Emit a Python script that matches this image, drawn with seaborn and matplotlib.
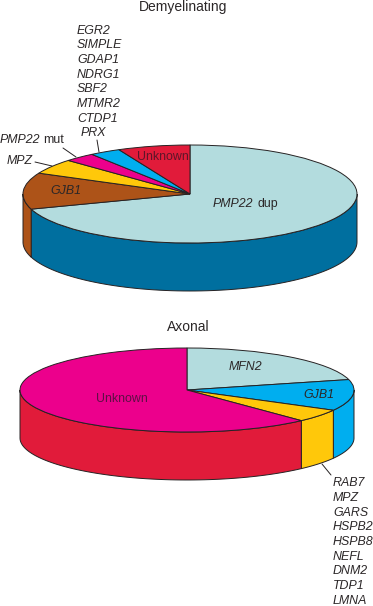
import numpy as np
import seaborn as sns
import matplotlib.pyplot as plt

W, H = 373, 606

# percentages, clockwise from 12 o'clock
demy_labels = ['PMP22 dup', 'GJB1', 'MPZ', 'PMP22 mut', 'PRX group', 'Unknown']
demy_values = [70, 12, 5, 3, 3, 7]
axon_labels = ['MFN2', 'GJB1', 'RAB7 group', 'Unknown']
axon_values = [21, 12, 5, 62]

demy_genes = ['EGR2', 'SIMPLE', 'GDAP1', 'NDRG1', 'SBF2', 'MTMR2', 'CTDP1']
axon_genes = ['RAB7', 'MPZ', 'GARS', 'HSPB2', 'HSPB8', 'NEFL', 'DNM2', 'TDP1', 'LMNA']

pale = '#b3dcde'
blue = '#006f9f'
brown = '#ad5318'
yellow = '#ffc80a'
pink = '#ec008c'
cyan = '#00aeef'
red = '#e11b3a'
line_col = '#262223'
text_col = '#2b2728'

demy_top = sns.color_palette([pale, brown, yellow, pink, cyan, red])
demy_side = sns.color_palette([blue, brown, yellow, pink, cyan, red])
axon_top = sns.color_palette([pale, cyan, yellow, pink])
axon_side = sns.color_palette([pale, cyan, yellow, red])

sns.set_theme(style='white')
plt.rcParams['font.family'] = ['Liberation Sans', 'DejaVu Sans']
plt.rcParams['font.size'] = 8.9

fig = plt.figure(figsize=(W / 100, H / 100), dpi=100)


# Pie with a flattened top and a side wall, center and radii in pixels
def draw_pie(values, top_cols, side_cols, cx, cy, rx, ry, depth):
    pad = 6
    ax = fig.add_axes([(cx - rx - pad) / W, 1 - (cy + ry + depth + pad) / H,
                       (2 * rx + 2 * pad) / W, (2 * ry + depth + 2 * pad) / H])
    ax.pie(values, colors=top_cols, startangle=90, counterclock=False, radius=1,
           wedgeprops={'edgecolor': line_col, 'linewidth': 0.7, 'zorder': 3})
    ax.set_aspect('auto')
    ax.set_xlim(-1 - pad / rx, 1 + pad / rx)
    ax.set_ylim(-1 - (depth + pad) / ry, 1 + pad / ry)
    ax.axis('off')

    d = depth / ry
    ends = 90 - np.cumsum(values) * 360 / sum(values)
    starts = np.r_[90, ends[:-1]]
    # the wall shows only where the rim faces us (-180 to 0 degrees)
    for a0, a1, col in zip(starts, ends, side_cols):
        lo = max(a1, -180)
        hi = min(a0, 0)
        if hi <= lo:
            continue
        t = np.radians(np.linspace(lo, hi, 80))
        x = np.cos(t)
        y = np.sin(t)
        ax.fill(np.r_[x, x[::-1]], np.r_[y, y[::-1] - d], facecolor=col,
                edgecolor=line_col, linewidth=0.7, zorder=2)
    return ax


draw_pie(demy_values, demy_top, demy_side, 190, 194, 167, 49, 48)
draw_pie(axon_values, axon_top, axon_side, 187, 390, 167, 42, 48)

# Overlay in pixel coordinates for the text and leader lines
ov = fig.add_axes([0, 0, 1, 1], zorder=5)
ov.set_xlim(0, W)
ov.set_ylim(H, 0)
ov.axis('off')
ov.patch.set_alpha(0)


def label(x, y, s, italic=True, **kw):
    kw.setdefault('color', text_col)
    ov.text(x, y, s, style='italic' if italic else 'normal', va='center', **kw)


ov.text(183.5, 7, 'Demyelinating', ha='center', va='center', color=text_col, fontsize=10)
ov.text(188, 327, 'Axonal', ha='center', va='center', color=text_col, fontsize=10)

for i, gene in enumerate(demy_genes):
    label(77, 30.7 + 14.7 * i, gene)
label(81, 133.5, 'PRX')
label(0, 140, 'PMP22')
label(43, 140, 'mut', italic=False)
label(7, 161, 'MPZ')
label(50, 191, 'GJB1')
label(137, 157, 'Unknown', italic=False, color='#5e1529')
label(213, 204, 'PMP22')
label(257, 204, 'dup', italic=False)

label(229, 367, 'MFN2')
label(303, 395, 'GJB1')
label(96, 399, 'Unknown', italic=False, color='#5e0f45')
for i, gene in enumerate(axon_genes):
    label(333, 483.3 + 14.7 * i, gene)

leaders = [((35, 52), (162, 166)), ((63, 76), (148, 157)),
           ((97, 99), (140, 152)), ((322, 331), (464, 475))]
for xs, ys in leaders:
    ov.plot(xs, ys, color=line_col, lw=0.7)

plt.savefig('out.png', dpi=100)
plt.close()
